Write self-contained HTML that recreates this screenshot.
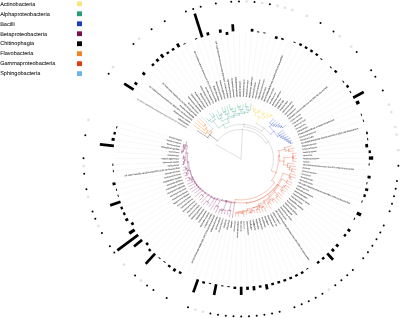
<!DOCTYPE html>
<html><head><meta charset="utf-8"><title>Phylogenetic tree</title>
<style>
html,body{margin:0;padding:0;background:#fff;}
#w{position:relative;width:400px;height:318px;overflow:hidden;background:#fff;font-family:"Liberation Sans",Arial,sans-serif;}
#w svg{position:absolute;left:0;top:0;filter:blur(0.3px);}
</style></head><body><div id="w">
<svg width="400" height="318" viewBox="0 0 400 318"><path d="M191.64 130.50L132.31 96.25M193.10 128.10L135.54 90.97M194.68 125.78L139.01 85.86M196.37 123.54L142.74 80.93M198.17 121.39L146.70 76.19M200.08 119.32L150.89 71.64M202.08 117.36L155.31 67.31M204.18 115.49L159.92 63.20M206.36 113.73L164.74 59.33M208.64 112.08L169.74 55.69M210.99 110.54L174.92 52.31M213.41 109.12L180.25 49.18M215.90 107.83L185.73 46.33M218.45 106.65L191.35 43.74M221.05 105.60L197.08 41.44M223.71 104.69L202.92 39.42M226.40 103.90L208.86 37.69M229.13 103.25L214.87 36.25M231.89 102.73L220.95 35.11M234.67 102.35L227.07 34.28M237.47 102.11L233.23 33.74M240.28 102.00L239.41 33.51M243.09 102.04L245.59 33.58M245.89 102.21L251.76 33.96M248.68 102.52L257.91 34.64M251.45 102.97L264.01 35.63M254.20 103.55L270.06 36.91M256.91 104.27L276.03 38.49M259.59 105.12L281.93 40.36M262.22 106.10L287.72 42.52M264.80 107.21L293.40 44.96M267.32 108.44L298.95 47.68M269.78 109.80L304.36 50.67M272.17 111.27L309.62 53.92M274.48 112.87L314.71 57.43M276.71 114.57L319.62 61.18M278.85 116.38L324.34 65.17M280.91 118.30L328.86 69.39M282.86 120.31L333.17 73.82M284.72 122.42L337.25 78.47M286.46 124.62L341.10 83.30M288.10 126.90L344.71 88.32M289.63 129.26L348.06 93.52M291.03 131.69L351.16 98.87M292.32 134.19L353.98 104.37M293.48 136.74L356.54 110.00M294.51 139.35L358.81 115.74M295.41 142.01L360.80 121.60M296.18 144.71L362.49 127.54M296.82 147.45L363.90 133.56M297.32 150.21L365.00 139.65M297.68 152.99L365.80 145.78M297.91 155.79L366.30 151.94M298.00 158.60L366.50 158.12M297.95 161.41L366.39 164.30M297.76 164.21L365.98 170.47M297.44 167.00L365.26 176.61M296.97 169.77L364.24 182.70M296.38 172.51L362.92 188.74M295.64 175.22L361.31 194.71M294.78 177.89L359.41 200.59M293.78 180.52L357.22 206.37M292.66 183.09L354.74 212.04M291.41 185.60L351.99 217.58M290.04 188.05L348.97 222.97M288.55 190.43L345.69 228.21M286.94 192.74L342.16 233.28M285.23 194.96L338.38 238.17M283.40 197.09L334.36 242.87M281.47 199.13L330.12 247.37M279.45 201.08L325.66 251.65M277.33 202.92L320.99 255.70M275.12 204.66L316.13 259.53M272.83 206.28L311.09 263.10M270.47 207.79L305.88 266.43M268.03 209.18L300.51 269.49M265.52 210.45L295.00 272.29M262.96 211.60L289.35 274.81M260.34 212.62L283.59 277.05M257.68 213.50L277.73 279.01M254.98 214.26L271.77 280.67M252.24 214.88L265.74 282.04M249.47 215.37L259.65 283.11M246.69 215.72L253.52 283.87M243.89 215.93L247.36 284.34M241.08 216.00L241.18 284.50M238.27 215.93L235.00 284.36M235.47 215.73L228.83 283.91M232.69 215.39L222.69 283.16M229.92 214.91L216.60 282.11M227.18 214.30L210.57 280.76M224.47 213.55L204.61 279.11M221.81 212.67L198.74 277.17M219.19 211.66L192.97 274.95M216.62 210.52L187.32 272.44M214.11 209.26L181.80 269.66M211.67 207.88L176.42 266.61M209.30 206.37L171.20 263.30M207.00 204.75L166.15 259.74M204.79 203.02L161.28 255.93M202.67 201.19L156.60 251.89M200.64 199.25L152.13 247.62M198.71 197.21L147.88 243.13M196.87 195.08L143.85 238.45M195.15 192.87L140.05 233.57M193.54 190.57L136.50 228.50M192.04 188.19L133.21 223.27M190.66 185.75L130.17 217.89M189.41 183.23L127.41 212.36M188.28 180.66L124.92 206.70M187.27 178.04L122.71 200.93M186.40 175.37L120.79 195.05M185.66 172.66L119.16 189.09M185.06 169.92L117.83 183.05M184.59 167.16L116.79 176.96M184.25 164.37L116.06 170.82M184.06 161.57L115.63 164.65M184.00 158.76L115.50 158.47M184.08 155.95L115.68 152.29M184.30 153.15L116.16 146.13M184.66 150.37L116.95 140.00M185.15 147.60L118.03 133.91M185.78 144.87L119.42 127.89M186.54 142.17L121.10 121.94" stroke="#e8e8e8" stroke-width="0.3" fill="none"/><path d="M241.00 159.00L215.89 144.50M241.00 159.00L242.45 129.34M242.45 129.34A29.70 29.70 0 0 0 217.49 140.85M242.45 129.34A29.70 29.70 0 0 1 266.16 143.22M266.16 143.22L268.53 141.73M268.53 141.73A32.50 32.50 0 0 0 243.73 126.61M243.73 126.61L243.92 124.32M243.92 124.32A34.80 34.80 0 0 0 225.15 128.02M243.92 124.32A34.80 34.80 0 0 1 261.81 131.11M261.81 131.11L264.02 128.14M264.02 128.14A38.50 38.50 0 0 0 256.32 123.68M264.02 128.14A38.50 38.50 0 0 1 270.50 134.26M268.53 141.73A32.50 32.50 0 0 1 271.34 170.65" stroke="#a0a0a0" stroke-width="0.32" fill="none" stroke-linecap="square"/><path d="M217.49 140.85L209.74 134.86M209.74 134.86A39.50 39.50 0 0 0 207.81 137.59M207.81 137.59L197.30 130.81M209.74 134.86A39.50 39.50 0 0 1 211.89 132.30" stroke="#1a1a1a" stroke-width="0.32" fill="none" stroke-linecap="square"/><path d="M211.89 132.30L210.42 130.95M210.42 130.95A41.50 41.50 0 0 0 208.35 133.38M208.35 133.38L206.78 132.15M206.78 132.15A43.50 43.50 0 0 0 205.65 133.65M205.65 133.65L194.27 125.49M206.78 132.15A43.50 43.50 0 0 1 207.96 130.70M207.96 130.70L205.69 128.75M205.69 128.75A46.50 46.50 0 0 0 204.59 130.07M204.59 130.07L195.98 123.23M205.69 128.75A46.50 46.50 0 0 1 206.83 127.46M206.83 127.46L204.62 125.43M204.62 125.43A49.50 49.50 0 0 0 203.81 126.34M203.81 126.34L197.80 121.06M204.62 125.43A49.50 49.50 0 0 1 205.46 124.54M205.46 124.54L199.72 118.98M210.42 130.95A41.50 41.50 0 0 1 212.66 128.68" stroke="#f29a40" stroke-width="0.46" fill="none" stroke-linecap="square"/><path d="M212.66 128.68L201.74 116.99" stroke="#6fb6ee" stroke-width="0.32" fill="none" stroke-linecap="square"/><path d="M225.15 128.02L223.46 124.73M223.46 124.73A38.50 38.50 0 0 0 218.37 127.86M218.37 127.86L213.37 120.98M213.37 120.98A47.00 47.00 0 0 0 211.53 122.39M211.53 122.39L209.76 120.19M209.76 120.19A49.82 49.82 0 0 0 208.82 120.97M208.82 120.97L206.68 118.45M209.76 120.19A49.82 49.82 0 0 1 210.73 119.44M210.73 119.44L210.58 119.24M213.37 120.98A47.00 47.00 0 0 1 215.27 119.67M215.27 119.67L213.49 116.94M213.49 116.94A50.26 50.26 0 0 0 212.46 117.63M212.46 117.63L209.78 113.74M213.49 116.94A50.26 50.26 0 0 1 214.54 116.28M214.54 116.28L212.47 112.94M223.46 124.73A38.50 38.50 0 0 1 228.98 122.42M228.98 122.42L227.73 118.62M227.73 118.62A42.50 42.50 0 0 0 221.81 121.08M221.81 121.08L220.46 118.40M220.46 118.40A45.50 45.50 0 0 0 218.97 119.19M218.97 119.19L216.43 114.59M220.46 118.40A45.50 45.50 0 0 1 221.97 117.67M221.97 117.67L220.74 114.99M220.74 114.99A48.45 48.45 0 0 0 219.66 115.50M219.66 115.50L217.35 110.78M220.74 114.99A48.45 48.45 0 0 1 221.83 114.50M221.83 114.50L221.09 112.79M227.73 118.62A42.50 42.50 0 0 1 233.95 117.09M233.95 117.09L233.70 115.61M233.70 115.61A44.00 44.00 0 0 0 228.17 116.91M228.17 116.91L227.29 114.04M227.29 114.04A47.00 47.00 0 0 0 225.64 114.58M225.64 114.58L224.70 111.85M224.70 111.85A49.89 49.89 0 0 0 223.54 112.27M223.54 112.27L221.64 107.17M224.70 111.85A49.89 49.89 0 0 1 225.86 111.46M225.86 111.46L224.44 106.98M227.29 114.04A47.00 47.00 0 0 1 228.96 113.57M228.96 113.57L227.02 106.25M233.70 115.61A44.00 44.00 0 0 1 239.36 115.03M239.36 115.03L239.30 113.53M239.30 113.53A45.50 45.50 0 0 0 234.28 114.00M234.28 114.00L233.92 111.53M233.92 111.53A48.00 48.00 0 0 0 232.17 111.82M232.17 111.82L231.69 109.27M231.69 109.27A50.59 50.59 0 0 0 230.47 109.52M230.47 109.52L229.41 104.54M231.69 109.27A50.59 50.59 0 0 1 232.92 109.06M232.92 109.06L232.77 108.17M233.92 111.53A48.00 48.00 0 0 1 235.67 111.30M235.67 111.30L235.22 107.24M239.30 113.53A45.50 45.50 0 0 1 244.34 113.62M244.34 113.62L244.45 112.13M244.45 112.13A47.00 47.00 0 0 0 240.98 112.00M240.98 112.00L240.98 109.50M240.98 109.50A49.50 49.50 0 0 0 239.15 109.53M239.15 109.53L239.06 106.88M239.06 106.88A52.15 52.15 0 0 0 237.77 106.95M237.77 106.95L237.66 105.07M239.06 106.88A52.15 52.15 0 0 1 240.34 106.85M240.34 106.85L240.32 105.60M240.98 109.50A49.50 49.50 0 0 1 242.81 109.53M242.81 109.53L242.99 104.70M244.45 112.13A47.00 47.00 0 0 1 247.90 112.51M247.90 112.51L248.27 110.04M248.27 110.04A49.50 49.50 0 0 0 246.46 109.80M246.46 109.80L246.79 106.80M246.79 106.80A52.52 52.52 0 0 0 245.50 106.67M245.50 106.67L245.80 103.24M246.79 106.80A52.52 52.52 0 0 1 248.08 106.96M248.08 106.96L248.09 106.83M248.27 110.04A49.50 49.50 0 0 1 250.08 110.34M250.08 110.34L251.24 104.09" stroke="#45ad8e" stroke-width="0.32" fill="none" stroke-linecap="square"/><path d="M256.32 123.68L259.30 116.80M259.30 116.80A46.00 46.00 0 0 0 254.93 115.16M254.93 115.16L255.83 112.30M255.83 112.30A49.00 49.00 0 0 0 253.52 111.63M253.52 111.63L254.10 109.42M254.10 109.42A51.28 51.28 0 0 0 252.87 109.11M252.87 109.11L253.62 105.99M254.10 109.42A51.28 51.28 0 0 1 255.32 109.76M255.32 109.76L255.75 108.25M255.83 112.30A49.00 49.00 0 0 1 258.11 113.09M258.11 113.09L258.70 111.52M258.70 111.52A50.68 50.68 0 0 0 257.53 111.09M257.53 111.09L258.04 109.59M258.70 111.52A50.68 50.68 0 0 1 259.86 111.97M259.86 111.97L260.82 109.59M259.30 116.80A46.00 46.00 0 0 1 263.49 118.87M263.49 118.87L264.71 116.69M264.71 116.69A48.50 48.50 0 0 0 262.33 115.44M262.33 115.44L263.19 113.69M263.19 113.69A50.45 50.45 0 0 0 262.06 113.16M262.06 113.16L262.77 111.63M263.19 113.69A50.45 50.45 0 0 1 264.30 114.25M264.30 114.25L265.07 112.76M264.71 116.69A48.50 48.50 0 0 1 267.02 118.07M267.02 118.07L268.34 115.99M268.34 115.99A50.96 50.96 0 0 0 266.73 115.01M266.73 115.01L268.74 111.57M268.34 115.99A50.96 50.96 0 0 1 269.91 117.03M269.91 117.03L271.16 115.21M271.16 115.21A53.17 53.17 0 0 0 270.07 114.48M270.07 114.48L269.56 115.27M271.16 115.21A53.17 53.17 0 0 1 272.23 115.97M272.23 115.97L271.60 116.84" stroke="#f4e07c" stroke-width="0.46" fill="none" stroke-linecap="square"/><path d="M270.50 134.26L273.95 131.37M273.95 131.37A43.00 43.00 0 0 0 269.51 126.81M269.51 126.81L271.50 124.56M271.50 124.56A46.00 46.00 0 0 0 269.82 123.15M269.82 123.15L273.58 118.47M271.50 124.56A46.00 46.00 0 0 1 273.10 126.06M273.10 126.06L274.15 124.98M274.15 124.98A47.50 47.50 0 0 0 272.54 123.49M272.54 123.49L275.53 120.12M274.15 124.98A47.50 47.50 0 0 1 275.69 126.55M275.69 126.55L276.78 125.52M276.78 125.52A49.00 49.00 0 0 0 275.31 124.01M275.31 124.01L277.41 121.87M276.78 125.52A49.00 49.00 0 0 1 278.19 127.10M278.19 127.10L279.33 126.12M279.33 126.12A50.50 50.50 0 0 0 278.09 124.73M278.09 124.73L279.65 123.28M279.33 126.12A50.50 50.50 0 0 1 280.52 127.56M280.52 127.56L281.69 126.62M281.69 126.62A52.00 52.00 0 0 0 280.88 125.63M280.88 125.63L281.01 125.52M281.69 126.62A52.00 52.00 0 0 1 282.48 127.64M282.48 127.64L285.24 125.54M273.95 131.37A43.00 43.00 0 0 1 277.67 136.54M277.67 136.54L279.37 135.49M279.37 135.49A45.00 45.00 0 0 0 278.19 133.66M278.19 133.66L283.14 130.28M279.37 135.49A45.00 45.00 0 0 1 280.47 137.38M280.47 137.38L281.69 136.71M281.69 136.71A46.40 46.40 0 0 0 280.58 134.79M280.58 134.79L284.51 132.39M281.69 136.71A46.40 46.40 0 0 1 282.71 138.67M282.71 138.67L283.97 138.06M283.97 138.06A47.80 47.80 0 0 0 282.96 136.10M282.96 136.10L285.76 134.56M283.97 138.06A47.80 47.80 0 0 1 284.89 140.06M284.89 140.06L286.18 139.51M286.18 139.51A49.20 49.20 0 0 0 285.29 137.58M285.29 137.58L287.99 136.28M286.18 139.51A49.20 49.20 0 0 1 286.97 141.48M286.97 141.48L288.28 140.98M288.28 140.98A50.60 50.60 0 0 0 287.58 139.24M287.58 139.24L290.07 138.19M288.28 140.98A50.60 50.60 0 0 1 288.91 142.74M288.91 142.74L290.24 142.29M290.24 142.29A52.00 52.00 0 0 0 289.81 141.08M289.81 141.08L291.32 140.53M290.24 142.29A52.00 52.00 0 0 1 290.64 143.50M290.64 143.50L292.76 142.84" stroke="#2a4fd0" stroke-width="0.32" fill="none" stroke-linecap="square"/><path d="M271.34 170.65L276.10 172.47M276.10 172.47A37.60 37.60 0 0 0 278.47 155.90M278.47 155.90L279.57 155.81M279.57 155.81A38.70 38.70 0 0 0 278.80 150.69M278.80 150.69L284.95 149.34M284.95 149.34A45.00 45.00 0 0 0 284.56 147.72M284.56 147.72L291.34 145.97M284.95 149.34A45.00 45.00 0 0 1 285.28 150.97M285.28 150.97L288.72 150.34M288.72 150.34A48.50 48.50 0 0 0 288.49 149.17M288.49 149.17L293.88 148.06M288.72 150.34A48.50 48.50 0 0 1 288.92 151.52M288.92 151.52L293.37 150.83M279.57 155.81A38.70 38.70 0 0 1 279.65 160.99M279.65 160.99L283.94 161.21M283.94 161.21A43.00 43.00 0 0 0 283.98 157.64M283.98 157.64L292.97 157.35M292.97 157.35A52.00 52.00 0 0 0 292.71 153.52M292.71 153.52L296.19 153.15M292.97 157.35A52.00 52.00 0 0 0 292.92 156.07M292.92 156.07L295.41 155.93M292.97 157.35A52.00 52.00 0 0 1 293.00 158.63M293.00 158.63L296.50 158.61M292.97 157.35A52.00 52.00 0 0 1 292.95 161.20M292.95 161.20L295.95 161.32M283.94 161.21A43.00 43.00 0 0 1 283.61 164.77M283.61 164.77L287.57 165.31M287.57 165.31A47.00 47.00 0 0 0 287.80 163.29M287.80 163.29L293.78 163.84M287.57 165.31A47.00 47.00 0 0 1 287.26 167.31M287.26 167.31L289.72 167.75M289.72 167.75A49.50 49.50 0 0 0 290.01 165.94M290.01 165.94L295.46 166.72M289.72 167.75A49.50 49.50 0 0 1 289.36 169.54M289.36 169.54L291.81 170.08M291.81 170.08A52.00 52.00 0 0 0 292.06 168.82M292.06 168.82L295.99 169.58M291.81 170.08A52.00 52.00 0 0 1 291.52 171.32M291.52 171.32L294.92 172.15M276.10 172.47A37.60 37.60 0 0 1 271.80 180.57M271.80 180.57L274.59 182.52M274.59 182.52A41.00 41.00 0 0 1 235.29 199.60M235.29 199.60L234.88 202.57M234.88 202.57A44.00 44.00 0 0 0 246.36 202.67M246.36 202.67L246.42 203.17M246.42 203.17A44.50 44.50 0 0 0 283.16 173.23M283.16 173.23L289.67 175.42M289.67 175.42A51.36 51.36 0 0 0 290.24 173.62M290.24 173.62L295.49 175.17M289.67 175.42A51.36 51.36 0 0 1 289.03 177.21M289.03 177.21L290.20 177.65M290.20 177.65A52.61 52.61 0 0 0 290.64 176.44M290.64 176.44L295.04 177.98M290.20 177.65A52.61 52.61 0 0 1 289.72 178.86M289.72 178.86L291.84 179.72M246.42 203.17A44.50 44.50 0 0 0 277.39 184.62M277.39 184.62L278.23 185.21M278.23 185.21A45.53 45.53 0 0 0 281.78 179.25M281.78 179.25L286.76 181.73M286.76 181.73A51.10 51.10 0 0 0 287.31 180.59M287.31 180.59L291.78 182.68M286.76 181.73A51.10 51.10 0 0 1 286.19 182.85M286.19 182.85L290.66 185.21M278.23 185.21A45.53 45.53 0 0 1 273.82 190.56M273.82 190.56L274.32 191.04M274.32 191.04A46.22 46.22 0 0 0 278.92 185.43M278.92 185.43L282.24 187.74M282.24 187.74A50.27 50.27 0 0 0 283.60 185.68M283.60 185.68L284.70 186.37M284.70 186.37A51.57 51.57 0 0 0 285.36 185.28M285.36 185.28L289.29 187.61M284.70 186.37A51.57 51.57 0 0 1 284.02 187.44M284.02 187.44L287.48 189.72M282.24 187.74A50.27 50.27 0 0 1 280.77 189.74M280.77 189.74L281.96 190.66M281.96 190.66A51.77 51.77 0 0 0 282.73 189.64M282.73 189.64L285.57 191.73M281.96 190.66A51.77 51.77 0 0 1 281.17 191.66M281.17 191.66L283.71 193.73M274.32 191.04A46.22 46.22 0 0 1 268.90 195.85M268.90 195.85L269.73 196.95M269.73 196.95A47.60 47.60 0 0 0 275.21 192.10M275.21 192.10L277.40 194.21M277.40 194.21A50.64 50.64 0 0 0 278.67 192.84M278.67 192.84L282.13 195.95M277.40 194.21A50.64 50.64 0 0 1 276.07 195.53M276.07 195.53L277.11 196.62M277.11 196.62A52.14 52.14 0 0 0 278.03 195.72M278.03 195.72L281.26 198.93M277.11 196.62A52.14 52.14 0 0 1 276.17 197.49M276.17 197.49L278.77 200.34M269.73 196.95A47.60 47.60 0 0 1 263.57 200.91M263.57 200.91L264.06 201.82M264.06 201.82A48.64 48.64 0 0 0 269.15 198.66M269.15 198.66L270.09 199.99M270.09 199.99A50.26 50.26 0 0 0 272.07 198.51M272.07 198.51L273.03 199.73M273.03 199.73A51.81 51.81 0 0 0 274.02 198.92M274.02 198.92L276.93 202.44M273.03 199.73A51.81 51.81 0 0 1 272.02 200.50M272.02 200.50L273.53 202.53M270.09 199.99A50.26 50.26 0 0 1 268.04 201.37M268.04 201.37L268.85 202.64M268.85 202.64A51.77 51.77 0 0 0 269.91 201.94M269.91 201.94L271.60 204.45M268.85 202.64A51.77 51.77 0 0 1 267.76 203.32M267.76 203.32L270.65 208.10M264.06 201.82A48.64 48.64 0 0 1 258.63 204.33M258.63 204.33L259.13 205.62M259.13 205.62A50.02 50.02 0 0 0 264.72 203.04M264.72 203.04L267.16 207.58M259.13 205.62A50.02 50.02 0 0 1 253.26 207.49M253.26 207.49L253.35 207.82M253.35 207.82A50.36 50.36 0 0 0 259.25 205.94M259.25 205.94L259.69 207.06M259.69 207.06A51.56 51.56 0 0 0 262.03 206.08M262.03 206.08L262.54 207.22M262.54 207.22A52.81 52.81 0 0 0 263.72 206.67M263.72 206.67L265.68 210.77M262.54 207.22A52.81 52.81 0 0 1 261.35 207.74M261.35 207.74L262.93 211.53M259.69 207.06A51.56 51.56 0 0 1 257.30 207.92M257.30 207.92L257.77 209.33M257.77 209.33A53.05 53.05 0 0 0 259.00 208.90M259.00 208.90L260.31 212.52M257.77 209.33A53.05 53.05 0 0 1 256.52 209.73M256.52 209.73L257.44 212.71M253.35 207.82A50.36 50.36 0 0 1 247.26 208.97M247.26 208.97L247.43 210.34M247.43 210.34A51.74 51.74 0 0 0 251.83 209.60M251.83 209.60L252.08 210.77M252.08 210.77A52.94 52.94 0 0 0 253.98 210.33M253.98 210.33L254.47 212.27M252.08 210.77A52.94 52.94 0 0 1 250.16 211.14M250.16 211.14L250.38 212.43M250.38 212.43A54.25 54.25 0 0 0 251.70 212.19M251.70 212.19L251.93 213.35M250.38 212.43A54.25 54.25 0 0 1 249.06 212.65M249.06 212.65L249.11 212.94M247.43 210.34A51.74 51.74 0 0 1 242.98 210.70M242.98 210.70L243.02 211.74M243.02 211.74A52.78 52.78 0 0 0 246.27 211.51M246.27 211.51L246.55 214.39M243.02 211.74A52.78 52.78 0 0 1 239.77 211.76M239.77 211.76L239.77 212.11M239.77 212.11A53.12 53.12 0 0 0 242.38 212.10M242.38 212.10L242.41 213.16M242.41 213.16A54.18 54.18 0 0 0 243.74 213.11M243.74 213.11L243.91 216.38M242.41 213.16A54.18 54.18 0 0 1 241.08 213.18M241.08 213.18L241.08 213.11M239.77 212.11A53.12 53.12 0 0 1 237.15 211.98M237.15 211.98L237.08 212.95M237.08 212.95A54.09 54.09 0 0 0 238.41 213.03M238.41 213.03L238.26 216.31M237.08 212.95A54.09 54.09 0 0 1 235.76 212.83M235.76 212.83L235.46 215.84M234.88 202.57A44.00 44.00 0 0 1 225.95 200.35" stroke="#e4502e" stroke-width="0.32" fill="none" stroke-linecap="square"/><path d="M225.95 200.35L225.78 200.82M225.78 200.82A44.50 44.50 0 0 0 234.51 203.02M234.51 203.02L232.35 217.70M225.78 200.82A44.50 44.50 0 0 0 226.73 201.15M226.73 201.15L226.60 201.53M226.60 201.53A44.90 44.90 0 0 0 231.19 202.81M231.19 202.81L229.48 210.47M229.48 210.47A52.74 52.74 0 0 0 230.75 210.73M230.75 210.73L229.50 217.02M229.48 210.47A52.74 52.74 0 0 1 228.21 210.17M228.21 210.17L227.14 214.45M226.60 201.53A44.90 44.90 0 0 1 222.18 199.76M222.18 199.76L221.85 200.48M221.85 200.48A45.69 45.69 0 0 0 226.15 202.21M226.15 202.21L223.56 209.74M223.56 209.74A53.65 53.65 0 0 0 225.44 210.35M225.44 210.35L224.45 213.62M223.56 209.74A53.65 53.65 0 0 1 221.69 209.06M221.69 209.06L221.24 210.25M221.24 210.25A54.93 54.93 0 0 0 222.50 210.72M222.50 210.72L221.52 213.49M221.24 210.25A54.93 54.93 0 0 1 219.98 209.75M219.98 209.75L218.61 213.07M221.85 200.48A45.69 45.69 0 0 1 217.74 198.33M217.74 198.33L217.14 199.36M217.14 199.36A46.88 46.88 0 0 0 219.91 200.87M219.91 200.87L217.27 206.11M217.27 206.11A52.75 52.75 0 0 0 218.44 206.68M218.44 206.68L215.69 212.49M217.27 206.11A52.75 52.75 0 0 1 216.12 205.51M216.12 205.51L214.00 209.46M217.14 199.36A46.88 46.88 0 0 1 214.47 197.66M214.47 197.66L214.02 198.31M214.02 198.31A47.68 47.68 0 0 0 216.47 199.88M216.47 199.88L211.02 208.96M214.02 198.31A47.68 47.68 0 0 1 211.68 196.59M211.68 196.59L211.43 196.91M211.43 196.91A48.08 48.08 0 0 0 214.26 198.95M214.26 198.95L209.26 206.43M211.43 196.91A48.08 48.08 0 0 1 208.76 194.66M208.76 194.66L208.49 194.96M208.49 194.96A48.47 48.47 0 0 0 211.14 197.18M211.14 197.18L207.52 201.81M207.52 201.81A54.34 54.34 0 0 0 208.59 202.62M208.59 202.62L207.29 204.37M207.52 201.81A54.34 54.34 0 0 1 206.48 200.97M206.48 200.97L203.30 204.84M208.49 194.96A48.47 48.47 0 0 1 206.01 192.54M206.01 192.54L205.43 193.09M205.43 193.09A49.27 49.27 0 0 0 207.87 195.46M207.87 195.46L201.33 202.66M205.43 193.09A49.27 49.27 0 0 1 203.17 190.56M203.17 190.56L202.86 190.81M202.86 190.81A49.66 49.66 0 0 0 204.98 193.19M204.98 193.19L202.53 195.51M202.53 195.51A53.04 53.04 0 0 0 203.44 196.45M203.44 196.45L199.89 200.00M202.53 195.51A53.04 53.04 0 0 1 201.65 194.56M201.65 194.56L199.07 196.88M202.86 190.81A49.66 49.66 0 0 1 200.90 188.31M200.90 188.31L200.26 188.77M200.26 188.77A50.46 50.46 0 0 0 201.94 190.94M201.94 190.94L195.28 196.39M200.26 188.77A50.46 50.46 0 0 1 198.71 186.52M198.71 186.52L198.37 186.74M198.37 186.74A50.86 50.86 0 0 0 200.09 189.22M200.09 189.22L195.22 192.81M198.37 186.74A50.86 50.86 0 0 1 196.80 184.16M196.80 184.16L196.46 184.35M196.46 184.35A51.25 51.25 0 0 0 198.32 187.38M198.32 187.38L192.63 191.17M196.46 184.35A51.25 51.25 0 0 1 194.81 181.20M194.81 181.20L194.45 181.37M194.45 181.37A51.65 51.65 0 0 0 196.64 185.45M196.64 185.45L190.05 189.38M194.45 181.37A51.65 51.65 0 0 1 192.63 177.11M192.63 177.11L192.26 177.25M192.26 177.25A52.05 52.05 0 0 0 195.04 183.42M195.04 183.42L189.60 186.31M192.26 177.25A52.05 52.05 0 0 1 190.30 170.78M190.30 170.78L189.92 170.87M189.92 170.87A52.44 52.44 0 0 0 192.74 179.53M192.74 179.53L191.64 180.00M191.64 180.00A53.64 53.64 0 0 0 192.45 181.81M192.45 181.81L187.93 183.93M191.64 180.00A53.64 53.64 0 0 1 190.89 178.16M190.89 178.16L189.50 178.70M189.50 178.70A55.14 55.14 0 0 0 190.00 179.96M190.00 179.96L187.74 180.89M189.50 178.70A55.14 55.14 0 0 1 189.03 177.42M189.03 177.42L186.02 178.49M189.92 170.87A52.44 52.44 0 0 1 188.63 161.85M188.63 161.85L187.44 161.91M187.44 161.91A53.64 53.64 0 0 0 188.63 170.57M188.63 170.57L187.46 170.83M187.46 170.83A54.84 54.84 0 0 0 188.10 173.45M188.10 173.45L186.67 173.84M186.67 173.84A56.32 56.32 0 0 0 187.06 175.18M187.06 175.18L184.83 175.85M186.67 173.84A56.32 56.32 0 0 1 186.32 172.50M186.32 172.50L184.11 173.05M187.46 170.83A54.84 54.84 0 0 1 186.94 168.18M186.94 168.18L185.88 168.36M185.88 168.36A55.91 55.91 0 0 0 186.13 169.71M186.13 169.71L183.51 170.22M185.88 168.36A55.91 55.91 0 0 1 185.67 167.00M185.67 167.00L184.05 167.23M187.44 161.91A53.64 53.64 0 0 1 187.68 153.17M187.68 153.17L186.10 153.00M186.10 153.00A55.22 55.22 0 0 0 185.79 160.13M185.79 160.13L184.59 160.15M184.59 160.15A56.42 56.42 0 0 0 184.71 162.93M184.71 162.93L183.50 163.01M183.50 163.01A57.64 57.64 0 0 0 183.62 164.43M183.62 164.43L182.11 164.57M183.50 163.01A57.64 57.64 0 0 1 183.42 161.60M183.42 161.60L184.13 161.56M184.59 160.15A56.42 56.42 0 0 1 184.60 157.37M184.60 157.37L183.54 157.34M183.54 157.34A57.49 57.49 0 0 0 183.51 158.76M183.51 158.76L182.66 158.75M183.54 157.34A57.49 57.49 0 0 1 183.60 155.93M183.60 155.93L184.18 155.96M186.10 153.00A55.22 55.22 0 0 1 187.33 145.97M187.33 145.97L185.79 145.59M185.79 145.59A56.81 56.81 0 0 0 185.07 149.02M185.07 149.02L183.89 148.81M183.89 148.81A58.01 58.01 0 0 0 183.46 151.63M183.46 151.63L181.91 151.43M181.91 151.43A59.57 59.57 0 0 0 181.74 152.89M181.74 152.89L182.61 152.98M181.91 151.43A59.57 59.57 0 0 1 182.12 149.98M182.12 149.98L183.31 150.16M183.89 148.81A58.01 58.01 0 0 1 184.46 146.01M184.46 146.01L183.37 145.75M183.37 145.75A59.13 59.13 0 0 0 183.06 147.18M183.06 147.18L185.18 147.61M183.37 145.75A59.13 59.13 0 0 1 183.71 144.34M183.71 144.34L186.12 144.96M185.79 145.59A56.81 56.81 0 0 1 186.72 142.22M186.72 142.22L186.73 142.22" stroke="#8a2a68" stroke-width="0.32" fill="none" stroke-linecap="square"/><g font-family="Liberation Sans, Arial, sans-serif" font-size="1.9" fill="#5c5c5c" stroke="#5c5c5c" stroke-width="0.08"><text transform="translate(187.13 127.90) rotate(30.00)" text-anchor="end" dy="0.65" fill="#9a9a9a" stroke="#9a9a9a" textLength="57.8" lengthAdjust="spacingAndGlyphs">NR 146993 Janthinobacterium johnsoniae strain DSM 62030 16S ribosomal RNA</text><text transform="translate(188.73 125.29) rotate(32.82)" text-anchor="end" dy="0.65" textLength="12.6" lengthAdjust="spacingAndGlyphs">Delftia fluorescens</text><text transform="translate(190.45 122.75) rotate(35.65)" text-anchor="end" dy="0.65" textLength="20.6" lengthAdjust="spacingAndGlyphs">Streptomyces subtilis</text><text transform="translate(192.30 120.31) rotate(38.47)" text-anchor="end" dy="0.65" textLength="54.8" lengthAdjust="spacingAndGlyphs">NR 105646 Comamonas pickettii strain NBRC 55810 16S ribosomal RNA</text><text transform="translate(194.26 117.96) rotate(41.29)" text-anchor="end" dy="0.65" textLength="19.0" lengthAdjust="spacingAndGlyphs">Erwinia maltophilia</text><text transform="translate(196.34 115.70) rotate(44.11)" text-anchor="end" dy="0.65" textLength="46.8" lengthAdjust="spacingAndGlyphs">NR 144981 Massilia maltophilia strain LMG 23859 16S ribosomal RNA</text><text transform="translate(198.53 113.56) rotate(46.94)" text-anchor="end" dy="0.65" textLength="15.2" lengthAdjust="spacingAndGlyphs">Chryseobacterium enzymogenes</text><text transform="translate(200.82 111.52) rotate(49.76)" text-anchor="end" dy="0.65" textLength="19.9" lengthAdjust="spacingAndGlyphs">Variovorax timonae</text><text transform="translate(203.20 109.60) rotate(52.58)" text-anchor="end" dy="0.65" textLength="19.8" lengthAdjust="spacingAndGlyphs">Pedobacter enzymogenes</text><text transform="translate(205.68 107.80) rotate(55.40)" text-anchor="end" dy="0.65" textLength="18.7" lengthAdjust="spacingAndGlyphs">Burkholderia johnsoniae</text><text transform="translate(208.25 106.12) rotate(58.23)" text-anchor="end" dy="0.65" textLength="15.3" lengthAdjust="spacingAndGlyphs">Methylobacterium cloacae</text><text transform="translate(210.89 104.57) rotate(61.05)" text-anchor="end" dy="0.65" textLength="21.5" lengthAdjust="spacingAndGlyphs">Chitinophaga paradoxus</text><text transform="translate(213.61 103.16) rotate(63.87)" text-anchor="end" dy="0.65" textLength="18.1" lengthAdjust="spacingAndGlyphs">Serratia maltophilia</text><text transform="translate(216.39 101.88) rotate(66.69)" text-anchor="end" dy="0.65" textLength="54.8" lengthAdjust="spacingAndGlyphs">NR 172964 Brevundimonas johnsoniae strain ATCC 77265 16S ribosomal RNA</text><text transform="translate(219.23 100.73) rotate(69.52)" text-anchor="end" dy="0.65" textLength="15.7" lengthAdjust="spacingAndGlyphs">Bradyrhizobium polymyxa</text><text transform="translate(222.13 99.73) rotate(72.34)" text-anchor="end" dy="0.65" textLength="19.2" lengthAdjust="spacingAndGlyphs">Burkholderia globiformis</text><text transform="translate(225.07 98.87) rotate(75.16)" text-anchor="end" dy="0.65" textLength="19.2" lengthAdjust="spacingAndGlyphs">Ralstonia globiformis</text><text transform="translate(228.05 98.16) rotate(77.98)" text-anchor="end" dy="0.65" textLength="57.8" lengthAdjust="spacingAndGlyphs">NR 119250 Enterobacter necator strain DSM 64966 16S ribosomal RNA</text><text transform="translate(231.06 97.60) rotate(80.81)" text-anchor="end" dy="0.65" textLength="18.8" lengthAdjust="spacingAndGlyphs">Chryseobacterium koreensis</text><text transform="translate(234.10 97.18) rotate(83.63)" text-anchor="end" dy="0.65" textLength="19.1" lengthAdjust="spacingAndGlyphs">Flavobacterium marcescens</text><text transform="translate(237.15 96.92) rotate(86.45)" text-anchor="end" dy="0.65" textLength="20.1" lengthAdjust="spacingAndGlyphs">Methylobacterium johnsoniae</text><text transform="translate(240.21 96.80) rotate(89.27)" text-anchor="end" dy="0.65" textLength="15.1" lengthAdjust="spacingAndGlyphs">Brevundimonas pickettii</text><text transform="translate(243.28 96.84) rotate(272.10)" dy="0.65" textLength="17.2" lengthAdjust="spacingAndGlyphs">Bradyrhizobium cepacia</text><text transform="translate(246.33 97.03) rotate(274.92)" dy="0.65" textLength="16.8" lengthAdjust="spacingAndGlyphs">Stenotrophomonas timonae</text><text transform="translate(249.38 97.37) rotate(277.74)" dy="0.65" textLength="20.9" lengthAdjust="spacingAndGlyphs">Microbacterium agglomerans</text><text transform="translate(252.40 97.85) rotate(280.56)" dy="0.65" textLength="15.6" lengthAdjust="spacingAndGlyphs">Achromobacter polymyxa</text><text transform="translate(255.40 98.49) rotate(283.39)" dy="0.65" textLength="19.4" lengthAdjust="spacingAndGlyphs">Acinetobacter leguminosarum</text><text transform="translate(258.36 99.27) rotate(286.21)" dy="0.65" textLength="20.5" lengthAdjust="spacingAndGlyphs">Streptomyces marcescens</text><text transform="translate(261.28 100.20) rotate(289.03)" dy="0.65" textLength="13.8" lengthAdjust="spacingAndGlyphs">Sphingomonas pickettii</text><text transform="translate(264.15 101.27) rotate(291.85)" dy="0.65" textLength="49.3" lengthAdjust="spacingAndGlyphs">NR 167082 Klebsiella koreensis strain LMG 80043 16S ribosomal RNA</text><text transform="translate(266.97 102.48) rotate(294.68)" dy="0.65" textLength="15.9" lengthAdjust="spacingAndGlyphs">Microbacterium xylosoxidans</text><text transform="translate(269.72 103.83) rotate(297.50)" dy="0.65" textLength="12.4" lengthAdjust="spacingAndGlyphs">Burkholderia polymyxa</text><text transform="translate(272.40 105.31) rotate(300.32)" dy="0.65" textLength="16.2" lengthAdjust="spacingAndGlyphs">Microbacterium agglomerans</text><text transform="translate(275.01 106.92) rotate(303.15)" dy="0.65" textLength="10.2" lengthAdjust="spacingAndGlyphs">Microbacterium necator</text><text transform="translate(277.53 108.66) rotate(305.97)" dy="0.65" textLength="10.2" lengthAdjust="spacingAndGlyphs">Burkholderia subtilis</text><text transform="translate(279.97 110.52) rotate(308.79)" dy="0.65" textLength="12.0" lengthAdjust="spacingAndGlyphs">Brevundimonas cepacia</text><text transform="translate(282.31 112.50) rotate(311.61)" dy="0.65" textLength="14.6" lengthAdjust="spacingAndGlyphs">Janthinobacterium pickettii</text><text transform="translate(284.55 114.59) rotate(314.44)" dy="0.65" textLength="12.8" lengthAdjust="spacingAndGlyphs">Xanthomonas pickettii</text><text transform="translate(286.68 116.79) rotate(317.26)" dy="0.65" textLength="12.0" lengthAdjust="spacingAndGlyphs">Acidovorax fluorescens</text><text transform="translate(288.70 119.09) rotate(320.08)" dy="0.65" textLength="50.3" lengthAdjust="spacingAndGlyphs">NR 111528 Lysobacter subtilis strain LMG 86627 16S ribosomal RNA</text><text transform="translate(290.61 121.48) rotate(322.90)" dy="0.65" textLength="12.2" lengthAdjust="spacingAndGlyphs">Pedobacter maltophilia</text><text transform="translate(292.40 123.97) rotate(325.73)" dy="0.65" textLength="11.9" lengthAdjust="spacingAndGlyphs">Serratia leguminosarum</text><text transform="translate(294.06 126.55) rotate(328.55)" dy="0.65" textLength="13.3" lengthAdjust="spacingAndGlyphs">Xanthomonas cepacia</text><text transform="translate(295.60 129.20) rotate(331.37)" dy="0.65" textLength="11.3" lengthAdjust="spacingAndGlyphs">Comamonas johnsoniae</text><text transform="translate(297.00 131.92) rotate(334.19)" dy="0.65" textLength="11.5" lengthAdjust="spacingAndGlyphs">Erwinia koreensis</text><text transform="translate(298.26 134.71) rotate(337.02)" dy="0.65" textLength="38.8" lengthAdjust="spacingAndGlyphs">Paenibacillus enzymogenes</text><text transform="translate(299.39 137.56) rotate(339.84)" dy="0.65" textLength="17.6" lengthAdjust="spacingAndGlyphs">Chryseobacterium leguminosarum</text><text transform="translate(300.37 140.46) rotate(342.66)" dy="0.65" textLength="13.8" lengthAdjust="spacingAndGlyphs">Stenotrophomonas subtilis</text><text transform="translate(301.21 143.41) rotate(345.48)" dy="0.65" textLength="58.8" lengthAdjust="spacingAndGlyphs">NR 152450 Enterobacter timonae strain ATCC 14915 16S ribosomal RNA</text><text transform="translate(301.91 146.39) rotate(348.31)" dy="0.65" textLength="14.6" lengthAdjust="spacingAndGlyphs">Rhizobium johnsoniae</text><text transform="translate(302.46 149.41) rotate(351.13)" dy="0.65" textLength="14.9" lengthAdjust="spacingAndGlyphs">Comamonas fluorescens</text><text transform="translate(302.85 152.45) rotate(353.95)" dy="0.65" textLength="13.4" lengthAdjust="spacingAndGlyphs">Acidovorax cepacia</text><text transform="translate(303.10 155.50) rotate(356.77)" dy="0.65" textLength="9.1" lengthAdjust="spacingAndGlyphs">Staphylococcus timonae</text><text transform="translate(303.20 158.56) rotate(359.60)" dy="0.65" textLength="16.0" lengthAdjust="spacingAndGlyphs">Pseudomonas marcescens</text><text transform="translate(303.14 161.63) rotate(2.42)" dy="0.65" textLength="6.3" lengthAdjust="spacingAndGlyphs">Acinetobacter paradoxus</text><text transform="translate(302.94 164.68) rotate(5.24)" dy="0.65" textLength="51.4" lengthAdjust="spacingAndGlyphs">NR 107698 Mesorhizobium necator strain ATCC 72865 16S ribosomal RNA</text><text transform="translate(302.58 167.73) rotate(8.06)" dy="0.65" textLength="7.7" lengthAdjust="spacingAndGlyphs">Arthrobacter pickettii</text><text transform="translate(302.08 170.75) rotate(10.89)" dy="0.65" textLength="14.6" lengthAdjust="spacingAndGlyphs">Achromobacter xylosoxidans</text><text transform="translate(301.43 173.74) rotate(13.71)" dy="0.65" textLength="9.8" lengthAdjust="spacingAndGlyphs">Chryseobacterium koreensis</text><text transform="translate(300.63 176.70) rotate(16.53)" dy="0.65" textLength="12.7" lengthAdjust="spacingAndGlyphs">Mesorhizobium koreensis</text><text transform="translate(299.68 179.61) rotate(19.35)" dy="0.65" textLength="13.8" lengthAdjust="spacingAndGlyphs">Paenibacillus cloacae</text><text transform="translate(298.60 182.48) rotate(22.18)" dy="0.65" textLength="55.8" lengthAdjust="spacingAndGlyphs">NR 183580 Variovorax paradoxus strain NBRC 24359 16S ribosomal RNA</text><text transform="translate(297.37 185.29) rotate(25.00)" dy="0.65" textLength="12.6" lengthAdjust="spacingAndGlyphs">Cupriavidus agglomerans</text><text transform="translate(296.01 188.03) rotate(27.82)" dy="0.65" textLength="19.4" lengthAdjust="spacingAndGlyphs">Serratia paradoxus</text><text transform="translate(294.51 190.70) rotate(30.65)" dy="0.65" textLength="14.9" lengthAdjust="spacingAndGlyphs">Xanthomonas leguminosarum</text><text transform="translate(292.89 193.30) rotate(33.47)" dy="0.65" textLength="20.4" lengthAdjust="spacingAndGlyphs">Janthinobacterium necator</text><text transform="translate(291.13 195.81) rotate(36.29)" dy="0.65" textLength="13.9" lengthAdjust="spacingAndGlyphs">Enterobacter cloacae</text><text transform="translate(289.26 198.24) rotate(39.11)" dy="0.65" textLength="18.2" lengthAdjust="spacingAndGlyphs">Massilia putida</text><text transform="translate(287.27 200.57) rotate(41.94)" dy="0.65" textLength="12.5" lengthAdjust="spacingAndGlyphs">Pseudomonas johnsoniae</text><text transform="translate(285.17 202.80) rotate(44.76)" dy="0.65" textLength="16.8" lengthAdjust="spacingAndGlyphs">Methylobacterium globiformis</text><text transform="translate(282.96 204.92) rotate(47.58)" dy="0.65" textLength="13.4" lengthAdjust="spacingAndGlyphs">Acidovorax leguminosarum</text><text transform="translate(280.65 206.93) rotate(50.40)" dy="0.65" textLength="17.4" lengthAdjust="spacingAndGlyphs">Brevundimonas cloacae</text><text transform="translate(278.24 208.82) rotate(53.23)" dy="0.65" textLength="13.4" lengthAdjust="spacingAndGlyphs">Rhizobium putida</text><text transform="translate(275.74 210.60) rotate(56.05)" dy="0.65" textLength="59.8" lengthAdjust="spacingAndGlyphs">NR 171963 Paenibacillus johnsoniae strain LMG 34787 16S ribosomal RNA</text><text transform="translate(273.16 212.24) rotate(58.87)" dy="0.65" textLength="13.8" lengthAdjust="spacingAndGlyphs">Sphingomonas agglomerans</text><text transform="translate(270.49 213.76) rotate(61.69)" dy="0.65" textLength="14.1" lengthAdjust="spacingAndGlyphs">Lysobacter sp.</text><text transform="translate(267.76 215.15) rotate(64.52)" dy="0.65" textLength="13.0" lengthAdjust="spacingAndGlyphs">Lysobacter fluorescens</text><text transform="translate(264.96 216.40) rotate(67.34)" dy="0.65" textLength="9.5" lengthAdjust="spacingAndGlyphs">Ralstonia agglomerans</text><text transform="translate(262.11 217.51) rotate(70.16)" dy="0.65" textLength="10.3" lengthAdjust="spacingAndGlyphs">Pantoea fluorescens</text><text transform="translate(259.20 218.48) rotate(72.98)" dy="0.65" textLength="11.5" lengthAdjust="spacingAndGlyphs">Enterobacter timonae</text><text transform="translate(256.25 219.30) rotate(75.81)" dy="0.65" textLength="10.1" lengthAdjust="spacingAndGlyphs">Pseudomonas cepacia</text><text transform="translate(253.26 219.98) rotate(78.63)" dy="0.65" textLength="10.4" lengthAdjust="spacingAndGlyphs">Herbaspirillum johnsoniae</text><text transform="translate(250.25 220.51) rotate(81.45)" dy="0.65" textLength="9.6" lengthAdjust="spacingAndGlyphs">Herbaspirillum polymyxa</text><text transform="translate(247.21 220.89) rotate(84.27)" dy="0.65" textLength="13.9" lengthAdjust="spacingAndGlyphs">Brevundimonas leguminosarum</text><text transform="translate(244.15 221.12) rotate(87.10)" dy="0.65" textLength="7.9" lengthAdjust="spacingAndGlyphs">Burkholderia marcescens</text><text transform="translate(241.09 221.20) rotate(89.92)" dy="0.65" textLength="10.3" lengthAdjust="spacingAndGlyphs">Brevundimonas sp.</text><text transform="translate(238.02 221.13) rotate(-87.26)" text-anchor="end" dy="0.65" textLength="16.7" lengthAdjust="spacingAndGlyphs">Massilia xylosoxidans</text><text transform="translate(234.97 220.91) rotate(-84.44)" text-anchor="end" dy="0.65" textLength="10.7" lengthAdjust="spacingAndGlyphs">Paenibacillus cloacae</text><text transform="translate(231.93 220.53) rotate(-81.61)" text-anchor="end" dy="0.65" textLength="7.5" lengthAdjust="spacingAndGlyphs">Acinetobacter globiformis</text><text transform="translate(228.91 220.01) rotate(-78.79)" text-anchor="end" dy="0.65" textLength="9.8" lengthAdjust="spacingAndGlyphs">Rhodococcus johnsoniae</text><text transform="translate(225.92 219.34) rotate(-75.97)" text-anchor="end" dy="0.65" textLength="8.6" lengthAdjust="spacingAndGlyphs">Mesorhizobium necator</text><text transform="translate(222.97 218.53) rotate(-73.15)" text-anchor="end" dy="0.65" textLength="14.4" lengthAdjust="spacingAndGlyphs">Arthrobacter marcescens</text><text transform="translate(220.06 217.57) rotate(-70.32)" text-anchor="end" dy="0.65" textLength="13.1" lengthAdjust="spacingAndGlyphs">Variovorax polymyxa</text><text transform="translate(217.20 216.47) rotate(-67.50)" text-anchor="end" dy="0.65" textLength="16.5" lengthAdjust="spacingAndGlyphs">Ralstonia johnsoniae</text><text transform="translate(214.40 215.22) rotate(-64.68)" text-anchor="end" dy="0.65" textLength="52.8" lengthAdjust="spacingAndGlyphs">NR 157433 Massilia subtilis strain DSM 73308 16S ribosomal RNA</text><text transform="translate(211.66 213.85) rotate(-61.85)" text-anchor="end" dy="0.65" textLength="15.3" lengthAdjust="spacingAndGlyphs">Herbaspirillum xylosoxidans</text><text transform="translate(208.99 212.33) rotate(-59.03)" text-anchor="end" dy="0.65" textLength="17.1" lengthAdjust="spacingAndGlyphs">Klebsiella cepacia</text><text transform="translate(206.41 210.69) rotate(-56.21)" text-anchor="end" dy="0.65" textLength="14.1" lengthAdjust="spacingAndGlyphs">Lysobacter paradoxus</text><text transform="translate(203.90 208.93) rotate(-53.39)" text-anchor="end" dy="0.65" textLength="13.5" lengthAdjust="spacingAndGlyphs">Chitinophaga xylosoxidans</text><text transform="translate(201.49 207.04) rotate(-50.56)" text-anchor="end" dy="0.65" textLength="15.6" lengthAdjust="spacingAndGlyphs">Ralstonia paradoxus</text><text transform="translate(199.17 205.04) rotate(-47.74)" text-anchor="end" dy="0.65" textLength="15.3" lengthAdjust="spacingAndGlyphs">Rhodococcus koreensis</text><text transform="translate(196.96 202.92) rotate(-44.92)" text-anchor="end" dy="0.65" textLength="14.2" lengthAdjust="spacingAndGlyphs">Variovorax cloacae</text><text transform="translate(194.85 200.70) rotate(-42.10)" text-anchor="end" dy="0.65" textLength="16.3" lengthAdjust="spacingAndGlyphs">Variovorax koreensis</text><text transform="translate(192.85 198.37) rotate(-39.27)" text-anchor="end" dy="0.65" textLength="15.7" lengthAdjust="spacingAndGlyphs">Janthinobacterium sp.</text><text transform="translate(190.97 195.96) rotate(-36.45)" text-anchor="end" dy="0.65" textLength="16.8" lengthAdjust="spacingAndGlyphs">Methylobacterium xylosoxidans</text><text transform="translate(189.21 193.45) rotate(-33.63)" text-anchor="end" dy="0.65" textLength="19.0" lengthAdjust="spacingAndGlyphs">Staphylococcus polymyxa</text><text transform="translate(187.58 190.86) rotate(-30.81)" text-anchor="end" dy="0.65" textLength="17.8" lengthAdjust="spacingAndGlyphs">Pseudomonas timonae</text><text transform="translate(186.07 188.19) rotate(-27.98)" text-anchor="end" dy="0.65" textLength="18.3" lengthAdjust="spacingAndGlyphs">Achromobacter fluorescens</text><text transform="translate(184.70 185.45) rotate(-25.16)" text-anchor="end" dy="0.65" textLength="19.2" lengthAdjust="spacingAndGlyphs">Flavobacterium maltophilia</text><text transform="translate(183.47 182.64) rotate(-22.34)" text-anchor="end" dy="0.65" textLength="18.8" lengthAdjust="spacingAndGlyphs">Acinetobacter cepacia</text><text transform="translate(182.37 179.78) rotate(-19.52)" text-anchor="end" dy="0.65" textLength="16.5" lengthAdjust="spacingAndGlyphs">Herbaspirillum globiformis</text><text transform="translate(181.42 176.87) rotate(-16.69)" text-anchor="end" dy="0.65" textLength="19.0" lengthAdjust="spacingAndGlyphs">Caulobacter cepacia</text><text transform="translate(180.61 173.91) rotate(-13.87)" text-anchor="end" dy="0.65" textLength="16.9" lengthAdjust="spacingAndGlyphs">Xanthomonas johnsoniae</text><text transform="translate(179.95 170.92) rotate(-11.05)" text-anchor="end" dy="0.65" textLength="15.4" lengthAdjust="spacingAndGlyphs">Cupriavidus xylosoxidans</text><text transform="translate(179.44 167.90) rotate(-8.23)" text-anchor="end" dy="0.65" textLength="55.3" lengthAdjust="spacingAndGlyphs">NR 130817 Klebsiella maltophilia strain ATCC 81260 16S ribosomal RNA</text><text transform="translate(179.08 164.86) rotate(-5.40)" text-anchor="end" dy="0.65" textLength="11.4" lengthAdjust="spacingAndGlyphs">Bacillus polymyxa</text><text transform="translate(178.86 161.80) rotate(-2.58)" text-anchor="end" dy="0.65" textLength="16.2" lengthAdjust="spacingAndGlyphs">Variovorax necator</text><text transform="translate(178.80 158.74) rotate(0.24)" text-anchor="end" dy="0.65" textLength="17.4" lengthAdjust="spacingAndGlyphs">Ralstonia agglomerans</text><text transform="translate(178.89 155.67) rotate(3.06)" text-anchor="end" dy="0.65" textLength="11.3" lengthAdjust="spacingAndGlyphs">Paenibacillus cloacae</text><text transform="translate(179.13 152.62) rotate(5.89)" text-anchor="end" dy="0.65" textLength="10.4" lengthAdjust="spacingAndGlyphs">Brevundimonas fluorescens</text><text transform="translate(179.52 149.58) rotate(8.71)" text-anchor="end" dy="0.65" textLength="18.3" lengthAdjust="spacingAndGlyphs">Rhizobium putida</text><text transform="translate(180.06 146.57) rotate(11.53)" text-anchor="end" dy="0.65" textLength="13.2" lengthAdjust="spacingAndGlyphs">Bacillus marcescens</text><text transform="translate(180.74 143.58) rotate(14.35)" text-anchor="end" dy="0.65" textLength="14.6" lengthAdjust="spacingAndGlyphs">Flavobacterium marcescens</text><text transform="translate(181.57 140.63) rotate(17.18)" text-anchor="end" dy="0.65" textLength="13.1" lengthAdjust="spacingAndGlyphs">Variovorax maltophilia</text></g><rect x="0.00" y="-1.35" width="11.20" height="2.70" transform="translate(133.60 89.73) rotate(212.82)" fill="#000"/><rect x="0.00" y="-1.35" width="3.10" height="2.70" transform="translate(137.14 84.52) rotate(215.65)" fill="#000"/><rect x="0.00" y="-1.35" width="3.10" height="2.70" transform="translate(144.97 74.67) rotate(221.29)" fill="#000"/><rect x="0.00" y="-1.35" width="2.30" height="2.70" transform="translate(153.74 65.63) rotate(226.94)" fill="#000"/><rect x="0.00" y="-1.35" width="3.10" height="2.70" transform="translate(158.44 61.45) rotate(229.76)" fill="#000"/><rect x="0.00" y="-1.35" width="4.00" height="2.70" transform="translate(163.34 57.50) rotate(232.58)" fill="#000"/><rect x="0.00" y="-1.35" width="2.30" height="2.70" transform="translate(168.44 53.80) rotate(235.40)" fill="#000"/><rect x="0.00" y="-1.35" width="2.30" height="2.70" transform="translate(173.70 50.35) rotate(238.23)" fill="#000"/><rect x="0.00" y="-1.35" width="4.00" height="2.70" transform="translate(179.14 47.17) rotate(241.05)" fill="#000"/><rect x="0.00" y="-1.20" width="0.90" height="2.40" transform="translate(184.72 44.26) rotate(243.87)" fill="#000"/><rect x="0.00" y="-1.20" width="0.90" height="2.40" transform="translate(196.28 39.28) rotate(249.52)" fill="#000"/><rect x="0.00" y="-1.35" width="24.80" height="2.70" transform="translate(202.23 37.22) rotate(252.34)" fill="#000"/><rect x="0.00" y="-1.35" width="3.10" height="2.70" transform="translate(208.27 35.46) rotate(255.16)" fill="#000"/><rect x="0.00" y="-1.35" width="3.40" height="2.70" transform="translate(220.58 32.84) rotate(260.81)" fill="#000"/><rect x="-3.00" y="-1.35" width="3.00" height="2.70" transform="translate(226.82 31.99) rotate(263.63)" fill="#000"/><rect x="0.00" y="-1.35" width="7.20" height="2.70" transform="translate(233.09 31.45) rotate(266.45)" fill="#000"/><rect x="0.00" y="-1.35" width="2.80" height="2.70" transform="translate(251.96 31.67) rotate(274.92)" fill="#000"/><rect x="0.00" y="-1.20" width="0.90" height="2.40" transform="translate(258.22 32.36) rotate(277.74)" fill="#000"/><rect x="0.00" y="-1.20" width="0.90" height="2.40" transform="translate(264.43 33.37) rotate(280.56)" fill="#000"/><rect x="-2.80" y="-1.35" width="2.80" height="2.70" transform="translate(276.68 36.28) rotate(286.21)" fill="#000"/><rect x="-1.60" y="-1.35" width="1.60" height="2.70" transform="translate(282.68 38.19) rotate(289.03)" fill="#000"/><rect x="0.00" y="-1.20" width="0.90" height="2.40" transform="translate(294.36 42.87) rotate(294.68)" fill="#000"/><rect x="0.00" y="-1.35" width="2.30" height="2.70" transform="translate(300.01 45.64) rotate(297.50)" fill="#000"/><rect x="0.00" y="-1.35" width="2.30" height="2.70" transform="translate(305.52 48.68) rotate(300.32)" fill="#000"/><rect x="0.00" y="-1.35" width="2.30" height="2.70" transform="translate(310.88 51.99) rotate(303.15)" fill="#000"/><rect x="0.00" y="-1.35" width="2.30" height="2.70" transform="translate(316.06 55.57) rotate(305.97)" fill="#000"/><rect x="0.00" y="-1.20" width="0.90" height="2.40" transform="translate(321.06 59.39) rotate(308.79)" fill="#000"/><rect x="0.00" y="-1.20" width="0.90" height="2.40" transform="translate(330.47 67.75) rotate(314.44)" fill="#000"/><rect x="0.00" y="-1.35" width="2.30" height="2.70" transform="translate(334.86 72.26) rotate(317.26)" fill="#000"/><rect x="0.00" y="-1.20" width="0.90" height="2.40" transform="translate(342.94 81.92) rotate(322.90)" fill="#000"/><rect x="0.00" y="-1.35" width="2.30" height="2.70" transform="translate(346.61 87.03) rotate(325.73)" fill="#000"/><rect x="0.00" y="-1.20" width="0.90" height="2.40" transform="translate(350.02 92.32) rotate(328.55)" fill="#000"/><rect x="0.00" y="-1.35" width="12.00" height="2.70" transform="translate(353.18 97.77) rotate(331.37)" fill="#000"/><rect x="0.00" y="-1.70" width="3.60" height="3.40" transform="translate(356.05 103.36) rotate(334.19)" fill="#000"/><rect x="0.00" y="-1.20" width="0.90" height="2.40" transform="translate(360.97 114.95) rotate(339.84)" fill="#000"/><rect x="0.00" y="-1.20" width="0.90" height="2.40" transform="translate(362.99 120.91) rotate(342.66)" fill="#000"/><rect x="0.00" y="-1.35" width="1.60" height="2.70" transform="translate(366.15 133.10) rotate(348.31)" fill="#000"/><rect x="0.00" y="-1.20" width="0.90" height="2.40" transform="translate(367.27 139.29) rotate(351.13)" fill="#000"/><rect x="-2.80" y="-1.70" width="2.80" height="3.40" transform="translate(368.09 145.53) rotate(353.95)" fill="#000"/><rect x="0.00" y="-1.35" width="2.30" height="2.70" transform="translate(368.60 151.81) rotate(356.77)" fill="#000"/><rect x="0.00" y="-1.70" width="4.40" height="3.40" transform="translate(368.80 158.10) rotate(359.60)" fill="#000"/><rect x="0.00" y="-1.20" width="0.90" height="2.40" transform="translate(368.69 164.39) rotate(362.42)" fill="#000"/><rect x="0.00" y="-1.35" width="3.10" height="2.70" transform="translate(367.54 176.93) rotate(368.06)" fill="#000"/><rect x="0.00" y="-1.20" width="0.90" height="2.40" transform="translate(366.50 183.14) rotate(370.89)" fill="#000"/><rect x="0.00" y="-1.35" width="3.10" height="2.70" transform="translate(365.16 189.29) rotate(373.71)" fill="#000"/><rect x="0.00" y="-1.35" width="2.30" height="2.70" transform="translate(363.52 195.37) rotate(376.53)" fill="#000"/><rect x="0.00" y="-1.20" width="0.90" height="2.40" transform="translate(361.58 201.36) rotate(379.35)" fill="#000"/><rect x="0.00" y="-1.70" width="4.60" height="3.40" transform="translate(356.83 213.01) rotate(385.00)" fill="#000"/><rect x="0.00" y="-1.20" width="0.90" height="2.40" transform="translate(354.03 218.65) rotate(387.82)" fill="#000"/><rect x="0.00" y="-1.35" width="3.10" height="2.70" transform="translate(347.61 229.48) rotate(393.47)" fill="#000"/><rect x="0.00" y="-1.35" width="2.30" height="2.70" transform="translate(344.01 234.64) rotate(396.29)" fill="#000"/><rect x="0.00" y="-1.35" width="3.10" height="2.70" transform="translate(336.07 244.41) rotate(401.94)" fill="#000"/><rect x="0.00" y="-1.35" width="3.10" height="2.70" transform="translate(331.75 248.99) rotate(404.76)" fill="#000"/><rect x="0.00" y="-1.35" width="8.70" height="2.70" transform="translate(327.21 253.35) rotate(407.58)" fill="#000"/><rect x="0.00" y="-1.35" width="2.30" height="2.70" transform="translate(322.46 257.48) rotate(410.40)" fill="#000"/><rect x="0.00" y="-1.35" width="2.30" height="2.70" transform="translate(317.51 261.37) rotate(413.23)" fill="#000"/><rect x="0.00" y="-1.20" width="0.90" height="2.40" transform="translate(307.07 268.40) rotate(418.87)" fill="#000"/><rect x="0.00" y="-1.35" width="2.30" height="2.70" transform="translate(301.60 271.52) rotate(421.69)" fill="#000"/><rect x="0.00" y="-1.35" width="2.30" height="2.70" transform="translate(295.99 274.37) rotate(424.52)" fill="#000"/><rect x="0.00" y="-1.35" width="2.30" height="2.70" transform="translate(290.24 276.93) rotate(427.34)" fill="#000"/><rect x="0.00" y="-1.35" width="2.30" height="2.70" transform="translate(284.37 279.22) rotate(430.16)" fill="#000"/><rect x="0.00" y="-1.35" width="2.30" height="2.70" transform="translate(278.40 281.21) rotate(432.98)" fill="#000"/><rect x="0.00" y="-1.35" width="2.30" height="2.70" transform="translate(272.34 282.90) rotate(435.81)" fill="#000"/><rect x="0.00" y="-1.35" width="5.20" height="2.70" transform="translate(266.20 284.29) rotate(438.63)" fill="#000"/><rect x="0.00" y="-1.35" width="2.30" height="2.70" transform="translate(260.00 285.38) rotate(441.45)" fill="#000"/><rect x="0.00" y="-1.35" width="4.20" height="2.70" transform="translate(253.75 286.16) rotate(444.27)" fill="#000"/><rect x="0.00" y="-1.35" width="3.20" height="2.70" transform="translate(247.47 286.64) rotate(447.10)" fill="#000"/><rect x="0.00" y="-1.35" width="8.20" height="2.70" transform="translate(241.18 286.80) rotate(449.92)" fill="#000"/><rect x="0.00" y="-1.35" width="2.30" height="2.70" transform="translate(234.89 286.65) rotate(452.74)" fill="#000"/><rect x="0.00" y="-1.20" width="0.90" height="2.40" transform="translate(228.61 286.20) rotate(455.56)" fill="#000"/><rect x="0.00" y="-1.20" width="0.90" height="2.40" transform="translate(222.36 285.43) rotate(458.39)" fill="#000"/><rect x="0.00" y="-1.35" width="10.80" height="2.70" transform="translate(216.16 284.36) rotate(461.21)" fill="#000"/><rect x="0.00" y="-1.20" width="0.90" height="2.40" transform="translate(210.01 282.99) rotate(464.03)" fill="#000"/><rect x="0.00" y="-1.35" width="2.30" height="2.70" transform="translate(203.94 281.31) rotate(466.85)" fill="#000"/><rect x="0.00" y="-1.35" width="13.80" height="2.70" transform="translate(197.97 279.34) rotate(469.68)" fill="#000"/><rect x="0.00" y="-1.35" width="2.30" height="2.70" transform="translate(180.72 271.69) rotate(478.15)" fill="#000"/><rect x="0.00" y="-1.35" width="3.10" height="2.70" transform="translate(175.24 268.58) rotate(480.97)" fill="#000"/><rect x="0.00" y="-1.35" width="2.30" height="2.70" transform="translate(169.92 265.21) rotate(483.79)" fill="#000"/><rect x="0.00" y="-1.20" width="0.90" height="2.40" transform="translate(164.78 261.58) rotate(486.61)" fill="#000"/><rect x="0.00" y="-1.20" width="0.90" height="2.40" transform="translate(159.82 257.71) rotate(489.44)" fill="#000"/><rect x="0.00" y="-1.35" width="13.90" height="2.70" transform="translate(155.06 253.59) rotate(492.26)" fill="#000"/><rect x="0.00" y="-1.35" width="2.30" height="2.70" transform="translate(150.50 249.24) rotate(495.08)" fill="#000"/><rect x="-2.60" y="-1.35" width="2.60" height="2.70" transform="translate(146.17 244.68) rotate(497.90)" fill="#000"/><rect x="0.00" y="-1.35" width="10.40" height="2.70" transform="translate(142.07 239.90) rotate(500.73)" fill="#000"/><rect x="0.00" y="-1.35" width="25.90" height="2.70" transform="translate(138.20 234.93) rotate(503.55)" fill="#000"/><rect x="0.00" y="-1.60" width="6.40" height="3.20" transform="translate(134.59 229.78) rotate(506.37)" fill="#000"/><rect x="-2.80" y="-1.35" width="2.80" height="2.70" transform="translate(131.23 224.45) rotate(509.19)" fill="#000"/><rect x="0.00" y="-1.35" width="3.10" height="2.70" transform="translate(128.14 218.97) rotate(512.02)" fill="#000"/><rect x="0.00" y="-1.35" width="2.30" height="2.70" transform="translate(125.33 213.34) rotate(514.84)" fill="#000"/><rect x="0.00" y="-1.35" width="2.30" height="2.70" transform="translate(122.79 207.57) rotate(517.66)" fill="#000"/><rect x="0.00" y="-1.35" width="11.00" height="2.70" transform="translate(120.54 201.69) rotate(520.48)" fill="#000"/><rect x="0.00" y="-1.20" width="0.90" height="2.40" transform="translate(118.59 195.71) rotate(523.31)" fill="#000"/><rect x="0.00" y="-1.20" width="0.90" height="2.40" transform="translate(116.93 189.64) rotate(526.13)" fill="#000"/><rect x="0.00" y="-1.35" width="3.10" height="2.70" transform="translate(115.57 183.49) rotate(528.95)" fill="#000"/><rect x="0.00" y="-1.20" width="0.90" height="2.40" transform="translate(113.77 171.03) rotate(534.60)" fill="#000"/><rect x="0.00" y="-1.20" width="0.90" height="2.40" transform="translate(113.33 164.75) rotate(537.42)" fill="#000"/><rect x="0.00" y="-1.35" width="14.10" height="2.70" transform="translate(113.87 145.89) rotate(545.89)" fill="#000"/><rect x="0.00" y="-1.35" width="3.10" height="2.70" transform="translate(114.67 139.65) rotate(548.71)" fill="#000"/><rect x="0.00" y="-1.35" width="2.30" height="2.70" transform="translate(115.78 133.45) rotate(551.53)" fill="#000"/><rect x="0.00" y="-1.20" width="0.90" height="2.40" transform="translate(117.19 127.32) rotate(554.35)" fill="#000"/><circle cx="108.64" cy="73.63" r="1.0" fill="#000"/><circle cx="133.46" cy="43.93" r="1.0" fill="#000"/><circle cx="151.57" cy="29.35" r="1.0" fill="#000"/><circle cx="164.76" cy="21.18" r="1.0" fill="#000"/><circle cx="185.88" cy="11.46" r="1.0" fill="#000"/><circle cx="193.22" cy="8.92" r="1.0" fill="#000"/><circle cx="200.66" cy="6.75" r="1.0" fill="#000"/><circle cx="215.84" cy="3.52" r="1.0" fill="#000"/><circle cx="231.25" cy="1.80" r="1.0" fill="#000"/><circle cx="239.00" cy="1.51" r="1.0" fill="#000"/><circle cx="254.51" cy="2.08" r="1.0" fill="#000"/><circle cx="269.88" cy="4.17" r="1.0" fill="#000"/><circle cx="320.52" cy="23.05" r="1.0" fill="#000"/><circle cx="333.50" cy="31.53" r="1.0" fill="#000"/><circle cx="356.67" cy="52.11" r="1.0" fill="#000"/><circle cx="371.15" cy="70.30" r="1.0" fill="#000"/><circle cx="375.36" cy="76.82" r="1.0" fill="#000"/><circle cx="382.79" cy="90.44" r="1.0" fill="#000"/><circle cx="398.36" cy="165.65" r="1.0" fill="#000"/><circle cx="396.94" cy="181.10" r="1.0" fill="#000"/><circle cx="395.67" cy="188.75" r="1.0" fill="#000"/><circle cx="394.01" cy="196.33" r="1.0" fill="#000"/><circle cx="391.99" cy="203.82" r="1.0" fill="#000"/><circle cx="389.60" cy="211.20" r="1.0" fill="#000"/><circle cx="383.74" cy="225.56" r="1.0" fill="#000"/><circle cx="380.29" cy="232.51" r="1.0" fill="#000"/><circle cx="376.50" cy="239.28" r="1.0" fill="#000"/><circle cx="372.39" cy="245.86" r="1.0" fill="#000"/><circle cx="367.95" cy="252.22" r="1.0" fill="#000"/><circle cx="363.20" cy="258.36" r="1.0" fill="#000"/><circle cx="352.84" cy="269.90" r="1.0" fill="#000"/><circle cx="347.24" cy="275.27" r="1.0" fill="#000"/><circle cx="341.39" cy="280.36" r="1.0" fill="#000"/><circle cx="335.29" cy="285.16" r="1.0" fill="#000"/><circle cx="322.42" cy="293.82" r="1.0" fill="#000"/><circle cx="315.68" cy="297.67" r="1.0" fill="#000"/><circle cx="308.77" cy="301.18" r="1.0" fill="#000"/><circle cx="301.68" cy="304.34" r="1.0" fill="#000"/><circle cx="294.45" cy="307.15" r="1.0" fill="#000"/><circle cx="279.62" cy="311.69" r="1.0" fill="#000"/><circle cx="272.05" cy="313.41" r="1.0" fill="#000"/><circle cx="264.41" cy="314.75" r="1.0" fill="#000"/><circle cx="256.71" cy="315.71" r="1.0" fill="#000"/><circle cx="248.98" cy="316.30" r="1.0" fill="#000"/><circle cx="241.22" cy="316.50" r="1.0" fill="#000"/><circle cx="233.47" cy="316.32" r="1.0" fill="#000"/><circle cx="225.73" cy="315.76" r="1.0" fill="#000"/><circle cx="218.03" cy="314.82" r="1.0" fill="#000"/><circle cx="210.38" cy="313.50" r="1.0" fill="#000"/><circle cx="187.97" cy="307.30" r="1.0" fill="#000"/><circle cx="166.71" cy="297.88" r="1.0" fill="#000"/><circle cx="153.41" cy="289.89" r="1.0" fill="#000"/><circle cx="147.07" cy="285.42" r="1.0" fill="#000"/><circle cx="135.09" cy="275.57" r="1.0" fill="#000"/><circle cx="114.31" cy="252.58" r="1.0" fill="#000"/><circle cx="109.86" cy="246.23" r="1.0" fill="#000"/><circle cx="101.91" cy="232.90" r="1.0" fill="#000"/><circle cx="95.32" cy="218.86" r="1.0" fill="#000"/><circle cx="92.55" cy="211.62" r="1.0" fill="#000"/><circle cx="86.42" cy="189.18" r="1.0" fill="#000"/><circle cx="84.20" cy="173.83" r="1.0" fill="#000"/><circle cx="83.50" cy="158.33" r="1.0" fill="#000"/><circle cx="85.32" cy="135.15" r="1.0" fill="#000"/><circle cx="113.01" cy="67.21" r="1.35" fill="#e2e2e2"/><circle cx="139.25" cy="38.78" r="1.35" fill="#e2e2e2"/><circle cx="246.76" cy="1.61" r="1.35" fill="#e2e2e2"/><circle cx="262.22" cy="2.94" r="1.35" fill="#e2e2e2"/><circle cx="277.47" cy="5.78" r="1.35" fill="#e2e2e2"/><circle cx="284.97" cy="7.76" r="1.35" fill="#e2e2e2"/><circle cx="292.36" cy="10.11" r="1.35" fill="#e2e2e2"/><circle cx="306.76" cy="15.88" r="1.35" fill="#e2e2e2"/><circle cx="339.67" cy="36.24" r="1.35" fill="#e2e2e2"/><circle cx="351.27" cy="46.54" r="1.35" fill="#e2e2e2"/><circle cx="388.85" cy="104.72" r="1.35" fill="#e2e2e2"/><circle cx="391.34" cy="112.06" r="1.35" fill="#e2e2e2"/><circle cx="395.23" cy="127.08" r="1.35" fill="#e2e2e2"/><circle cx="396.62" cy="134.71" r="1.35" fill="#e2e2e2"/><circle cx="398.25" cy="150.14" r="1.35" fill="#e2e2e2"/><circle cx="328.96" cy="289.65" r="1.35" fill="#e2e2e2"/><circle cx="202.81" cy="311.80" r="1.35" fill="#e2e2e2"/><circle cx="195.33" cy="309.73" r="1.35" fill="#e2e2e2"/><circle cx="140.95" cy="280.64" r="1.35" fill="#e2e2e2"/><circle cx="124.13" cy="264.59" r="1.35" fill="#e2e2e2"/><circle cx="98.44" cy="225.96" r="1.35" fill="#e2e2e2"/><circle cx="88.09" cy="196.76" r="1.35" fill="#e2e2e2"/><circle cx="83.66" cy="166.09" r="1.35" fill="#e2e2e2"/><circle cx="88.42" cy="119.95" r="1.35" fill="#e2e2e2"/></svg>
<svg width="100" height="80" viewBox="0 0 100 80" font-family="Liberation Sans, Arial, sans-serif" font-size="5.55" fill="#111" stroke="#111" stroke-width="0.05" text-rendering="geometricPrecision"><text x="0.15" y="5.95">Actinobacteria</text><rect x="77" y="1.40" width="5" height="4.8" fill="#f6e680" stroke="none"/><text x="0.15" y="15.82">Alphaproteobacteria</text><rect x="77" y="11.38" width="5" height="4.8" fill="#2a9d78" stroke="none"/><text x="0.15" y="25.69">Bacilli</text><rect x="77" y="21.36" width="5" height="4.8" fill="#1a3fc4" stroke="none"/><text x="0.15" y="35.56">Betaproteobacteria</text><rect x="77" y="31.34" width="5" height="4.8" fill="#7a1050" stroke="none"/><text x="0.15" y="45.43">Chitinophagia</text><rect x="77" y="41.32" width="5" height="4.8" fill="#000000" stroke="none"/><text x="0.15" y="55.30">Flavobacteria</text><rect x="77" y="51.30" width="5" height="4.8" fill="#f58220" stroke="none"/><text x="0.15" y="65.17">Gammaproteobacteria</text><rect x="77" y="61.28" width="5" height="4.8" fill="#e03c10" stroke="none"/><text x="0.15" y="75.04">Sphingobacteria</text><rect x="77" y="71.26" width="5" height="4.8" fill="#6cb4ee" stroke="none"/></svg>
</div></body></html>
